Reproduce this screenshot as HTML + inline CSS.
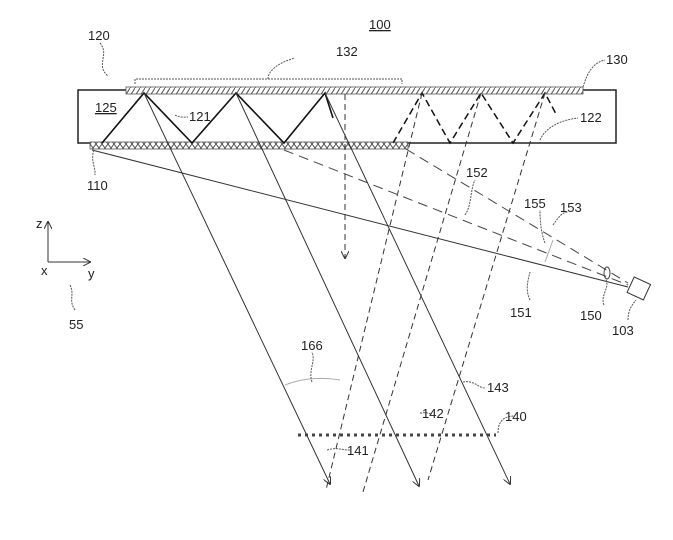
<!DOCTYPE html>
<html><head><style>
body{margin:0;background:#fff}
svg text{font-family:"Liberation Sans",sans-serif;font-size:13px;fill:#222}
</style></head><body>
<svg width="673" height="535" viewBox="0 0 673 535" xmlns="http://www.w3.org/2000/svg">
<defs>
<pattern id="h1" width="5" height="8" patternUnits="userSpaceOnUse"><rect width="5" height="8" fill="#fff"/><path d="M0,8 L5,0" stroke="#555" stroke-width="1"/></pattern>
<pattern id="h2" width="6" height="8" patternUnits="userSpaceOnUse"><rect width="6" height="8" fill="#fff"/><path d="M0,0 L6,8 M0,8 L6,0" stroke="#555" stroke-width="1"/></pattern>
<marker id="ar" markerWidth="8" markerHeight="8" refX="7" refY="4" orient="auto"><path d="M0,0 L8,4 L0,8" fill="none" stroke="#333" stroke-width="1"/></marker>
</defs>
<rect x="78" y="90" width="538" height="53" fill="none" stroke="#222" stroke-width="1.5"/>
<rect x="126" y="87" width="457" height="7" fill="url(#h1)" stroke="#555" stroke-width="0.8"/>
<rect x="90" y="142" width="318" height="7" fill="url(#h2)" stroke="#555" stroke-width="0.8"/>
<!-- zigzag solid -->
<polyline points="102,143 144,93 192,143 236,93 284,143 325,93 333,118" fill="none" stroke="#111" stroke-width="1.6"/>
<polyline points="393,143 422,93 450,143 481,93 513,143 545,93 556,114" fill="none" stroke="#111" stroke-width="1.5" stroke-dasharray="7,4"/>
<line x1="345" y1="94" x2="345" y2="258" stroke="#333" stroke-dasharray="6,4" marker-end="url(#ar)"/>
<!-- rays -->
<line x1="144" y1="93" x2="330" y2="484" stroke="#333" marker-end="url(#ar)"/>
<line x1="236" y1="93" x2="419" y2="486" stroke="#333" marker-end="url(#ar)"/>
<line x1="325" y1="93" x2="510" y2="484" stroke="#333" marker-end="url(#ar)"/>
<line x1="422" y1="93" x2="326" y2="490" stroke="#333" stroke-dasharray="6,4"/>
<line x1="481" y1="93" x2="363" y2="492" stroke="#333" stroke-dasharray="6,4"/>
<line x1="545" y1="93" x2="428" y2="480" stroke="#333" stroke-dasharray="6,4"/>
<!-- camera lines -->
<line x1="92" y1="150" x2="628" y2="287" stroke="#333"/>
<line x1="284" y1="150" x2="628" y2="285" stroke="#444" stroke-dasharray="10,6"/>
<line x1="406" y1="149" x2="628" y2="283" stroke="#444" stroke-dasharray="10,6"/>
<ellipse cx="607" cy="273" rx="3" ry="6" fill="none" stroke="#444"/>
<rect x="630" y="280" width="18" height="17" fill="#fff" stroke="#333" transform="rotate(25 639 288)"/>
<line x1="553" y1="240" x2="545" y2="262" stroke="#aaa"/>
<!-- layer 140 -->
<line x1="298" y1="435" x2="496" y2="435" stroke="#444" stroke-width="3" stroke-dasharray="3,4"/>
<!-- arc 166 -->
<path d="M285,385 Q310,375 340,380" fill="none" stroke="#aaa"/>
<path d="M312,382 C308,370 316,362 312,352" fill="none" stroke="#555" stroke-dasharray="2,1"/>
<!-- bracket 132 -->
<path d="M135,84 L135,79 L402,79 L402,84 M268,79 C268,70 280,62 295,58" fill="none" stroke="#555" stroke-dasharray="2,1"/>
<!-- leaders -->
<g fill="none" stroke="#555" stroke-dasharray="2,1">
<path d="M100,43 C110,55 95,65 108,76"/>
<path d="M583,87 C588,70 595,62 605,60"/>
<path d="M175,115 C180,118 185,117 188,117"/>
<path d="M540,140 C545,128 560,120 578,118"/>
<path d="M94,150 C90,160 96,168 95,175"/>
<path d="M465,215 C472,205 470,190 475,180"/>
<path d="M545,243 C540,230 540,215 540,210"/>
<path d="M553,225 C560,215 563,212 568,212"/>
<path d="M530,300 C525,290 528,280 530,272"/>
<path d="M604,305 C600,295 610,288 606,280"/>
<path d="M628,320 C628,310 632,305 636,300"/>
<path d="M463,382 C475,380 478,388 485,388"/>
<path d="M420,413 C430,412 428,414 432,414"/>
<path d="M498,433 C498,420 505,416 515,416"/>
<path d="M327,450 C338,447 340,450 350,450"/>
<path d="M70,285 C75,295 68,300 75,310"/>
</g>
<!-- axes -->
<line x1="48" y1="262" x2="48" y2="222" stroke="#333" marker-end="url(#ar)"/>
<line x1="48" y1="262" x2="90" y2="262" stroke="#333" marker-end="url(#ar)"/>
<text x="36" y="228" font-size="11">z</text>
<text x="41" y="275" font-size="11">x</text>
<text x="88" y="278" font-size="11">y</text>
<text x="369" y="29" text-decoration="underline">100</text>
<text x="88" y="40">120</text>
<text x="336" y="56">132</text>
<text x="606" y="64">130</text>
<text x="95" y="112" text-decoration="underline">125</text>
<text x="189" y="121">121</text>
<text x="580" y="122">122</text>
<text x="87" y="190">110</text>
<text x="466" y="177">152</text>
<text x="524" y="208">155</text>
<text x="560" y="212">153</text>
<text x="510" y="317">151</text>
<text x="580" y="320">150</text>
<text x="612" y="335">103</text>
<text x="301" y="350">166</text>
<text x="487" y="392">143</text>
<text x="422" y="418">142</text>
<text x="505" y="421">140</text>
<text x="347" y="455">141</text>
<text x="69" y="329">55</text>
</svg>
</body></html>
